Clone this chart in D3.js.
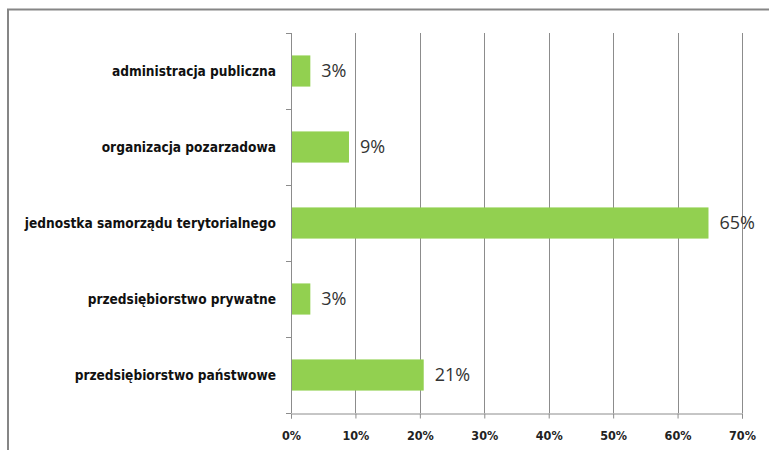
<!DOCTYPE html>
<html>
<head>
<meta charset="utf-8">
<script src="https://cdn.jsdelivr.net/npm/d3@7"></script>
<style>
  body { margin: 0; background: #fff; }
  svg { display: block; }
</style>
</head>
<body>
<script>
'use strict';

const categories = [
  "administracja publiczna",
  "organizacja pozarzadowa",
  "jednostka samorządu terytorialnego",
  "przedsiębiorstwo prywatne",
  "przedsiębiorstwo państwowe"
]
const values = [0.03, 0.09, 0.648, 0.03, 0.206]
const valueLabels = ["3%", "9%", "65%", "3%", "21%"]
const ticks = [0, 0.1, 0.2, 0.3, 0.4, 0.5, 0.6, 0.7]

const m = {
  width: 769,
  height: 450,
  left: 291,
  right: 742,
  top: 33,
  bottom: 413
}

const svg = d3.select('body')
  .append('svg')
  .attr('width', m.width)
  .attr('height', m.height)

// outer chart border (only top and left show in the crop)
svg.append('path')
  .attr('d', 'M8,' + m.height + ' V9.5 H' + m.width)
  .style('fill', 'none')
  .style('stroke', '#868686')
  .style('stroke-width', 2)

const xScale = d3.scaleLinear()
  .domain([0, 0.7])
  .range([m.left, m.right])

const yScale = d3.scaleBand()
  .domain(categories)
  .range([m.top, m.bottom])
  .paddingInner(0.59)
  .paddingOuter(0.295)

// vertical gridlines
svg.append('g')
  .selectAll('line')
  .data(ticks.slice(1))
  .enter().append('line')
    .attr('x1', d => Math.round(xScale(d)) + 0.5)
    .attr('x2', d => Math.round(xScale(d)) + 0.5)
    .attr('y1', m.top)
    .attr('y2', m.bottom)
    .style('stroke', '#8c8c8c')
    .style('stroke-width', 1)

// x axis
const xAxis = d3.axisBottom(xScale)
  .tickValues(ticks)
  .tickSize(5)
  .tickPadding(13)
  .tickFormat(d3.format('.0%'))

const gx = svg.append('g')
  .attr('transform', 'translate(0,' + (m.bottom + 0.5) + ')')
  .call(xAxis)
gx.select('.domain').style('stroke', '#8c8c8c')
gx.selectAll('.tick line').style('stroke', '#8c8c8c')
gx.selectAll('.tick text')
  .style('font-family', '"DejaVu Sans Condensed", "DejaVu Sans", sans-serif')
  .style('font-weight', 'bold')
  .style('font-size', '12.5px')
  .style('fill', '#222')

// y axis line with category separator ticks
const bounds = categories.map(c => yScale(c) - yScale.step() * yScale.paddingInner() / 2)
bounds.push(m.bottom)
svg.append('line')
  .attr('x1', m.left + 0.5).attr('x2', m.left + 0.5)
  .attr('y1', m.top).attr('y2', m.bottom)
  .style('stroke', '#8c8c8c')
svg.append('g')
  .selectAll('line')
  .data(bounds)
  .enter().append('line')
    .attr('x1', m.left - 5).attr('x2', m.left)
    .attr('y1', d => Math.round(d) + 0.5)
    .attr('y2', d => Math.round(d) + 0.5)
    .style('stroke', '#8c8c8c')

// bars
svg.append('g')
  .selectAll('rect')
  .data(values)
  .enter().append('rect')
    .attr('x', m.left + 1)
    .attr('y', (d, i) => yScale(categories[i]))
    .attr('width', d => xScale(d) - m.left - 1)
    .attr('height', yScale.bandwidth())
    .style('fill', '#92d050')

// category labels
svg.append('g')
  .selectAll('text')
  .data(categories)
  .enter().append('text')
    .attr('x', m.left - 15)
    .attr('y', d => yScale(d) + yScale.bandwidth() / 2)
    .attr('dy', '0.35em')
    .style('text-anchor', 'end')
    .style('font-family', '"DejaVu Sans Condensed", "DejaVu Sans", sans-serif')
    .style('font-weight', 'bold')
    .style('font-size', '13.6px')
    .style('fill', '#111')
    .text(d => d)

// value labels
svg.append('g')
  .selectAll('text')
  .data(values)
  .enter().append('text')
    .attr('x', d => xScale(d) + 11)
    .attr('y', (d, i) => yScale(categories[i]) + yScale.bandwidth() / 2)
    .attr('dy', '0.36em')
    .style('font-family', '"Open Sans", "DejaVu Sans", sans-serif')
    .style('font-size', '18px')
    .style('fill', '#333')
    .text((d, i) => valueLabels[i])
</script>
</body>
</html>
